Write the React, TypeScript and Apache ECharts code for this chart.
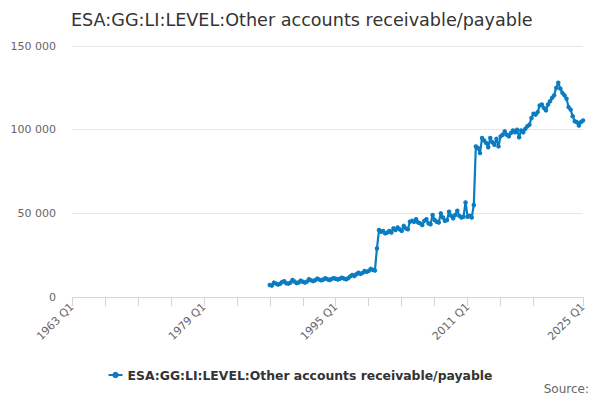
import * as echarts from "echarts"
import { useEffect, useRef } from "react"

// Quarterly axis 1963 Q1 .. 2025 Q1, series starts at 1987 Q1.
const FIRST_YEAR = 1963
const LAST_YEAR = 2025
const categories: string[] = []
for (let y = FIRST_YEAR; y <= LAST_YEAR; y++) {
  for (let q = 1; q <= 4; q++) {
    if (y === LAST_YEAR && q > 1) break
    categories.push(`${y} Q${q}`)
  }
}

const seriesName = "ESA:GG:LI:LEVEL:Other accounts receivable/payable"
const seriesStart = "1987 Q1"

// 1987 Q1 .. 1999 Q4
const values1987 = [
  7200, 6800, 8600, 8000, 7400, 7900, 9000, 9400, 8200, 8000,
  8600, 10200, 9300, 8300, 8700, 9800, 9100, 8600, 9200, 10600,
  10000, 9500, 10000, 11000, 10400, 10000, 10500, 11200, 10600, 10200,
  10800, 11300, 10900, 10500, 10900, 11500, 11000, 10600, 11200, 12300,
  13200, 12500, 13600, 14500, 13800, 14400, 15500, 15000, 15600, 16800,
  16200, 15800,
]
// 2000 Q1 .. 2011 Q4
const values2000 = [
  29000,
  40000, 39000, 39500, 38000, 38500, 39500, 38500, 41000, 40000, 41500,
  40500, 39500, 42500, 41000, 40500, 45000, 45500, 45000, 46500, 44500,
  44000, 43000, 45500, 46500, 44000, 43500, 49000, 46000, 45000, 44500,
  50000, 47500, 45500, 46000, 51000, 48500, 47000, 49000, 51500, 48500,
  47500, 48000, 56500, 48000, 48500, 47500, 55000,
]
// 2012 Q1 .. 2025 Q1
const values2012 = [
  90000, 89000, 86000, 95000, 93500, 92000, 89500, 95000, 92500, 91000,
  94500, 90000, 96000, 97000, 99000, 97000, 96000, 98000, 99500, 98500,
  100000, 95500, 99500, 98500, 100500, 102000, 103000, 107000, 109500, 109000,
  110500, 114500, 115000, 113000, 111500, 115000, 117000, 119000, 120500, 125000,
  128000, 124500, 122000, 120500, 118500, 113500, 112000, 108000, 105000, 104500,
  102500, 104500, 105500,
]

const values = [...values1987, ...values2000, ...values2012]

const yTicks = { min: 0, max: 150000, interval: 50000 }

export default function App() {
  const ref = useRef<HTMLDivElement>(null)

  useEffect(() => {
    document.body.style.margin = "0"
    if (!ref.current) return
    const chart = echarts.init(ref.current, undefined, { renderer: "svg" })

    const start = categories.indexOf(seriesStart)
    const last = categories.length - 1
    const font = "DejaVu Sans"

    chart.setOption({
      animation: false,
      textStyle: { fontFamily: font },
      title: {
        text: seriesName,
        left: 66,
        top: 6,
        textStyle: { fontSize: 17.6, fontWeight: "normal", color: "#333333", fontFamily: font },
      },
      grid: { left: 72, right: 17, top: 46, bottom: 103 },
      legend: {
        data: [seriesName],
        left: "center",
        top: 364,
        itemWidth: 14,
        itemHeight: 8,
        itemGap: 8,
        textStyle: { color: "#333333", fontSize: 12.4, fontWeight: "bold", fontFamily: font },
      },
      xAxis: {
        type: "category",
        data: categories,
        boundaryGap: false,
        axisLine: { lineStyle: { color: "#ccd6eb" } },
        axisTick: {
          length: 9,
          lineStyle: { color: "#ccd6eb" },
          interval: (i: number) => (i % 16 === 0 && i !== 240) || i === last,
        },
        axisLabel: {
          rotate: 45,
          color: "#666666",
          fontSize: 11,
          margin: 8,
          fontFamily: font,
          interval: (i: number) => i % 64 === 0 || i === last,
        },
        splitLine: { show: false },
      },
      yAxis: {
        type: "value",
        ...yTicks,
        axisLine: { show: false },
        axisTick: { show: false },
        splitLine: { lineStyle: { color: "#e6e6e6" } },
        axisLabel: {
          color: "#666666",
          fontSize: 11,
          margin: 16,
          fontFamily: font,
          formatter: (v: number) => String(v).replace(/\B(?=(\d{3})+(?!\d))/g, " "),
        },
      },
      series: [
        {
          name: seriesName,
          type: "line",
          data: values.map((v, i) => [categories[start + i], v]),
          symbol: "circle",
          symbolSize: 4.5,
          showSymbol: true,
          showAllSymbol: true,
          lineStyle: { width: 2.2, color: "#0a7cc1" },
          itemStyle: { color: "#0a7cc1" },
        },
      ],
      graphic: [
        {
          type: "text",
          right: 11,
          top: 383,
          style: { text: "Source:", fill: "#666666", fontSize: 12, fontFamily: font },
        },
      ],
    })

    return () => {
      chart.dispose()
    }
  }, [])

  return <div ref={ref} style={{ width: 600, height: 400 }} />
}
